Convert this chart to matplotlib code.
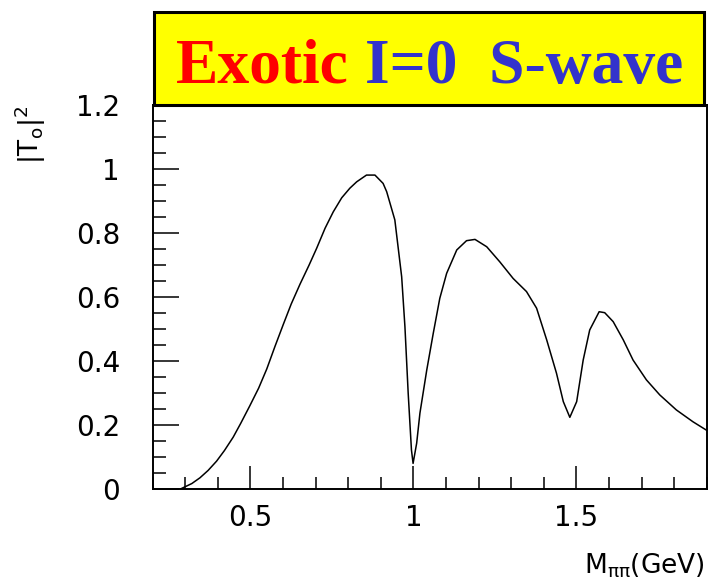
import matplotlib.pyplot as plt
from matplotlib.patches import Rectangle
from matplotlib.ticker import MultipleLocator, StrMethodFormatter

# |T0|^2 of the exotic I=0 S-wave versus pi-pi invariant mass
mass = [0.285, 0.320, 0.345, 0.370, 0.396, 0.420, 0.447, 0.470, 0.498, 0.525,
        0.550, 0.575, 0.601, 0.625, 0.652, 0.680, 0.703, 0.729, 0.754, 0.780,
        0.805, 0.826, 0.856, 0.882, 0.907, 0.918, 0.943, 0.964, 0.974, 0.984,
        0.994, 0.999, 1.010, 1.020, 1.041, 1.061, 1.081, 1.102, 1.133, 1.163,
        1.189, 1.225, 1.265, 1.306, 1.347, 1.378, 1.409, 1.439, 1.460, 1.480,
        1.501, 1.521, 1.541, 1.570, 1.587, 1.613, 1.644, 1.674, 1.715, 1.756,
        1.807, 1.858, 1.899]
t0_sq = [0.000, 0.017, 0.035, 0.058, 0.087, 0.120, 0.162, 0.205, 0.260, 0.315,
         0.375, 0.445, 0.515, 0.578, 0.640, 0.700, 0.752, 0.815, 0.866, 0.910,
         0.940, 0.960, 0.981, 0.981, 0.955, 0.929, 0.841, 0.663, 0.507, 0.299,
         0.122, 0.080, 0.143, 0.237, 0.372, 0.487, 0.596, 0.674, 0.747, 0.776,
         0.780, 0.757, 0.710, 0.658, 0.617, 0.565, 0.466, 0.362, 0.273, 0.224,
         0.273, 0.403, 0.497, 0.554, 0.551, 0.523, 0.466, 0.403, 0.341, 0.294,
         0.247, 0.210, 0.184]

title_red = "Exotic"
title_blue = "I=0  S-wave"

W, H = 708, 581
fig = plt.figure(figsize=(W / 100, H / 100), dpi=100)


def px(x, y):
    # pixel position (from top-left) -> figure fraction
    return x / W, 1 - y / H


ax = fig.add_axes([152.7 / W, 1 - 489 / H, 554 / W, 384 / H])
ax.plot(mass, t0_sq, color="black", lw=1.1)
ax.set_xlim(0.2, 1.9)
ax.set_ylim(0, 1.2)

ax.xaxis.set_major_locator(MultipleLocator(0.5))
ax.xaxis.set_minor_locator(MultipleLocator(0.1))
ax.yaxis.set_major_locator(MultipleLocator(0.2))
ax.yaxis.set_minor_locator(MultipleLocator(0.05))
ax.xaxis.set_major_formatter(StrMethodFormatter("{x:g}"))
ax.yaxis.set_major_formatter(StrMethodFormatter("{x:g}"))

for s in ax.spines.values():
    s.set_linewidth(1.4)
ax.tick_params(which="both", direction="in", top=False, right=False,
               width=1.1, labelsize=20)
ax.tick_params(axis="y", which="major", length=18.5, pad=23.5)
ax.tick_params(axis="y", which="minor", length=9.4)
ax.tick_params(axis="x", which="major", length=16.5, pad=11)
ax.tick_params(axis="x", which="minor", length=8.3)

# axis titles, ROOT style: flush with the axis ends
fig.text(*px(30, 106), r"$\mathregular{|T_o|^2}$", rotation=90,
         ha="center", va="top", fontsize=19)
fig.text(*px(705, 574), r"$\mathregular{M_{\pi\pi}(GeV)}$",
         ha="right", va="baseline", fontsize=19)

# yellow title box
box = Rectangle(px(154, 105), 550 / W, 93 / H, transform=fig.transFigure,
                facecolor="#ffff00", edgecolor="black", lw=2.2, zorder=5)
fig.add_artist(box)

tfont = dict(family="Liberation Serif", weight="bold", fontsize=45.7,
             va="baseline", ha="left", zorder=6)
t1 = fig.text(*px(176, 83), title_red, color="#ff0000", **tfont)
fig.canvas.draw()
ext = t1.get_window_extent()
gap = 0.25 * 45.7 * 100 / 72
fig.text((ext.x1 + gap) / W, 1 - 83 / H, title_blue, color="#3333cc", **tfont)

fig.savefig("out.png", dpi=100)
